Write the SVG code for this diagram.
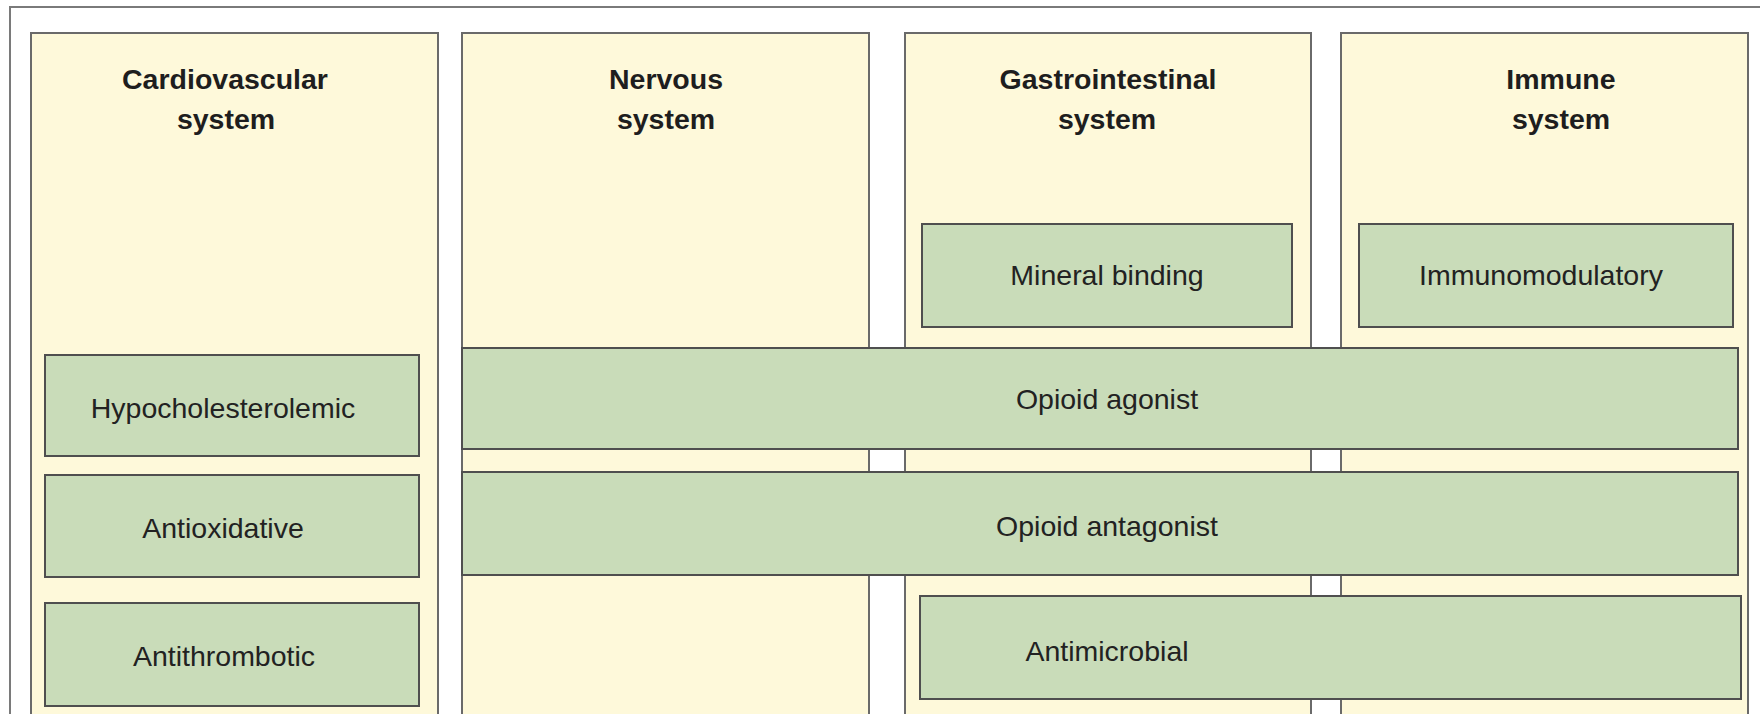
<svg xmlns="http://www.w3.org/2000/svg" width="1760" height="714" viewBox="0 0 1760 714">
<style>
.frame{fill:#ffffff;stroke:#7a7a7a;stroke-width:2}
.col{fill:#fef9da;stroke:#6a6a6a;stroke-width:2}
.box{fill:#c9dcb9;stroke:#4f4f4f;stroke-width:2}
.h{font-family:"Liberation Sans",Arial,sans-serif;font-size:28.5px;font-weight:bold;fill:#1e1e1e;text-anchor:middle}
.t{font-family:"Liberation Sans",Arial,sans-serif;font-size:28.5px;fill:#222222;text-anchor:middle}
</style>
<rect x="0" y="0" width="1760" height="714" fill="#ffffff"/>
<rect class="frame" x="10" y="7" width="1780" height="740"/>
<g id="col-cardiovascular">
<rect class="col" x="31" y="33" width="407" height="700"/>
<text class="h" x="225" y="89">Cardiovascular</text>
<text class="h" x="226" y="129">system</text>
</g>
<g id="col-nervous">
<rect class="col" x="462" y="33" width="407" height="700"/>
<text class="h" x="666" y="89">Nervous</text>
<text class="h" x="666" y="129">system</text>
</g>
<g id="col-gastrointestinal">
<rect class="col" x="905" y="33" width="406" height="700"/>
<text class="h" x="1108" y="89">Gastrointestinal</text>
<text class="h" x="1107" y="129">system</text>
</g>
<g id="col-immune">
<rect class="col" x="1341" y="33" width="407" height="700"/>
<text class="h" x="1561" y="89">Immune</text>
<text class="h" x="1561" y="129">system</text>
</g>
<g id="hypocholesterolemic">
<rect class="box" x="45" y="355" width="374" height="101"/>
<text class="t" x="223" y="418">Hypocholesterolemic</text>
</g>
<g id="antioxidative">
<rect class="box" x="45" y="475" width="374" height="102"/>
<text class="t" x="223" y="538">Antioxidative</text>
</g>
<g id="antithrombotic">
<rect class="box" x="45" y="603" width="374" height="103"/>
<text class="t" x="224" y="666">Antithrombotic</text>
</g>
<g id="mineral-binding">
<rect class="box" x="922" y="224" width="370" height="103"/>
<text class="t" x="1107" y="285">Mineral binding</text>
</g>
<g id="immunomodulatory">
<rect class="box" x="1359" y="224" width="374" height="103"/>
<text class="t" x="1541" y="285">Immunomodulatory</text>
</g>
<g id="opioid-agonist">
<rect class="box" x="462" y="348" width="1276" height="101"/>
<text class="t" x="1107" y="409">Opioid agonist</text>
</g>
<g id="opioid-antagonist">
<rect class="box" x="462" y="472" width="1276" height="103"/>
<text class="t" x="1107" y="536">Opioid antagonist</text>
</g>
<g id="antimicrobial">
<rect class="box" x="920" y="596" width="821" height="103"/>
<text class="t" x="1107" y="661">Antimicrobial</text>
</g>
<g id="connectors"></g>
</svg>
